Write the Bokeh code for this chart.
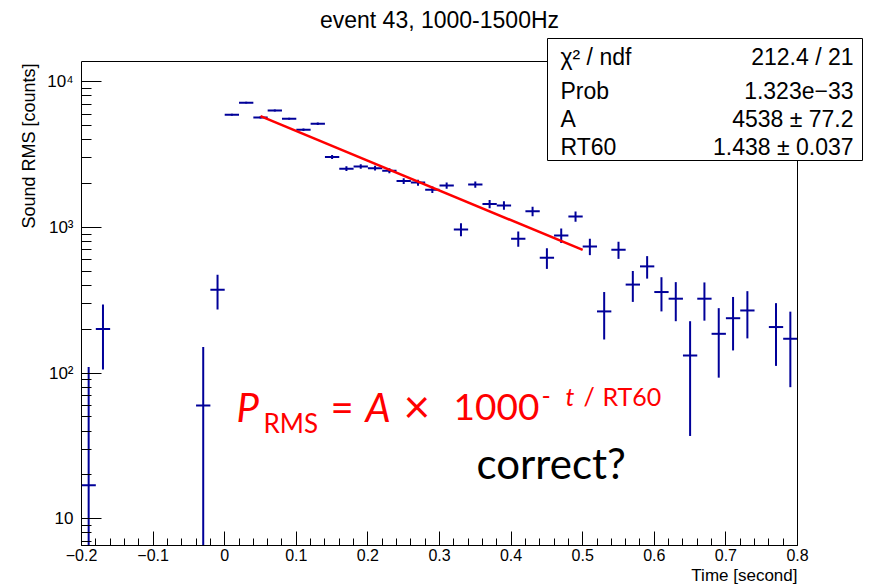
from math import pi, log10
from bokeh.plotting import figure
from bokeh.models import Label, BoxAnnotation, FixedTicker, Range1d, Title
from bokeh.embed import file_html
from bokeh.resources import INLINE

# ---------------- data ----------------
TITLE = "event 43, 1000-1500Hz"
X_LABEL = "Time [second]"
Y_LABEL = "Sound RMS [counts]"

BIN_T = [-0.19, -0.17, -0.03, -0.01,
         0.01, 0.03, 0.05, 0.07, 0.09, 0.11, 0.13, 0.15, 0.17, 0.19,
         0.21, 0.23, 0.25, 0.27, 0.29, 0.31, 0.33, 0.35, 0.37, 0.39,
         0.41, 0.43, 0.45, 0.47, 0.49, 0.51, 0.53, 0.55, 0.57, 0.59,
         0.61, 0.63, 0.65, 0.67, 0.69, 0.71, 0.73, 0.77, 0.79]
RMS = [17, 201, 60, 373,
       5930, 7180, 5690, 6350, 5570, 4680, 5150, 3040, 2530, 2620,
       2550, 2450, 2080, 2030, 1815, 1940, 968, 1970, 1450, 1415,
       836, 1290, 619, 881, 1190, 740, 265, 703, 405, 540,
       360, 324, 132, 324, 186, 238, 269, 207, 172]
RMS_ERR = [93, 95, 91, 100,
           95, 95, 95, 95, 95, 95, 95, 95, 95, 95,
           95, 95, 95, 95, 95, 95, 100, 95, 95, 95,
           100, 95, 100, 100, 95, 95, 95, 95, 97, 95,
           95, 97, 95, 95, 93, 95, 96, 95, 92]
BIN_WIDTH = 0.02

FIT_T = [0.05, 0.50]
FIT_RMS = [5800, 700]

STAT_NAMES = ["\u03c7\u00b2 / ndf", "Prob", "A", "RT60"]
STAT_VALUES = ["212.4 / 21", "1.323e\u221233", "4538 \u00b1 77.2", "1.438 \u00b1 0.037"]

X_TICKS = [-0.2, -0.1, 0, 0.1, 0.2, 0.3, 0.4, 0.5, 0.6, 0.7, 0.8]
X_TICK_LABELS = ["\u22120.2", "\u22120.1", "0", "0.1", "0.2", "0.3", "0.4",
                 "0.5", "0.6", "0.7", "0.8"]
Y_TICKS = [10, 100, 1000, 10000]
Y_TICK_LABELS = ["10", "10\u00b2", "10\u00b3", "10\u2074"]

# axis frame of the original histogram
X_MIN, X_MAX = -0.2, 0.8
Y_MIN, Y_MAX = 6.55, 13770

# ---------------- layout constants (page pixels) ----------------
W, H = 875, 587
FRAME_LEFT_PX = 81      # left edge of histogram frame
FRAME_RIGHT_PX = 797    # right edge of histogram frame
FRAME_TOP_PX = 61
FRAME_BOTTOM_PX = 545

px_per_x = (FRAME_RIGHT_PX - FRAME_LEFT_PX) / (X_MAX - X_MIN)
px_per_dec = (FRAME_BOTTOM_PX - FRAME_TOP_PX) / log10(Y_MAX / Y_MIN)
x_view_max = X_MIN + (W - FRAME_LEFT_PX) / px_per_x
y_view_max = Y_MIN * 10 ** (FRAME_BOTTOM_PX / px_per_dec)


def fx(px):
    return px - FRAME_LEFT_PX


def fy(py):
    return FRAME_BOTTOM_PX - py


ROOT_FONT = "Liberation Sans"
SLIDE_FONT = "Lato"
BLUE = "#000099"
RED = "#ff0000"

p = figure(width=W, height=H,
           x_range=Range1d(X_MIN, x_view_max), y_range=Range1d(Y_MIN, y_view_max),
           y_axis_type="log", output_backend="svg", toolbar_location=None,
           min_border_left=FRAME_LEFT_PX, min_border_right=0,
           min_border_top=0, min_border_bottom=H - FRAME_BOTTOM_PX)
p.grid.visible = False
p.background_fill_color = "white"
p.border_fill_color = "white"
p.outline_line_color = None

# x axis
x_minor = [round(X_MIN + 0.02 * i, 2) for i in range(51)]
p.xaxis.bounds = (X_MIN, X_MAX)
p.xaxis.ticker = FixedTicker(ticks=X_TICKS, minor_ticks=x_minor)
p.xaxis.major_label_overrides = dict(zip(X_TICKS, X_TICK_LABELS))
p.xaxis.major_tick_in = 14
p.xaxis.major_tick_out = 0
p.xaxis.minor_tick_in = 7
p.xaxis.minor_tick_out = 0
p.xaxis.major_label_standoff = 3
p.xaxis.major_label_text_font_size = "16px"

# y axis
y_minor = [m * 10 ** e for e in range(0, 5) for m in range(2, 10)
           if Y_MIN <= m * 10 ** e <= Y_MAX]
p.yaxis.bounds = (Y_MIN, Y_MAX)
p.yaxis.ticker = FixedTicker(ticks=Y_TICKS, minor_ticks=y_minor)
p.yaxis.major_label_overrides = dict(zip(Y_TICKS, Y_TICK_LABELS))
p.yaxis.major_tick_in = 20
p.yaxis.major_tick_out = 0
p.yaxis.minor_tick_in = 10
p.yaxis.minor_tick_out = 0
p.yaxis.major_label_standoff = 8
p.yaxis.major_label_text_font_size = "17px"

for ax in (p.xaxis, p.yaxis):
    ax.major_label_text_font = ROOT_FONT
    ax.major_label_text_color = "black"
    ax.axis_line_color = "black"
    ax.major_tick_line_color = "black"
    ax.minor_tick_line_color = "black"
    ax.major_tick_line_width = 1
    ax.minor_tick_line_width = 1

# axis titles (right-aligned as in ROOT)
p.add_layout(Title(text=X_LABEL, align="right", offset=W - FRAME_RIGHT_PX,
                   vertical_align="middle", standoff=2,
                   text_font=ROOT_FONT, text_font_size="17px",
                   text_font_style="normal", text_color="black"), "below")
p.add_layout(Title(text=Y_LABEL, align="right", offset=63,
                   vertical_align="middle", standoff=10,
                   text_font=ROOT_FONT, text_font_size="18px",
                   text_font_style="normal", text_color="black"), "left")

# error-bar points
half = BIN_WIDTH / 2
p.segment(x0=[t - half for t in BIN_T], x1=[t + half for t in BIN_T],
          y0=RMS, y1=RMS, line_color=BLUE, line_width=2)
low = [max(v - e, Y_MIN) for v, e in zip(RMS, RMS_ERR)]
high = [v + e for v, e in zip(RMS, RMS_ERR)]
p.segment(x0=BIN_T, x1=BIN_T, y0=low, y1=high, line_color=BLUE, line_width=2)

# fit line
p.line(FIT_T, FIT_RMS, line_color=RED, line_width=2.5)

# histogram frame box
p.add_layout(BoxAnnotation(left=X_MIN, right=X_MAX, bottom=Y_MIN, top=Y_MAX,
                           fill_alpha=0, line_color="black", line_width=1,
                           line_alpha=1.0))

# title
p.add_layout(Label(x=fx(439), y=fy(19), x_units="screen", y_units="screen",
                   text=TITLE, text_align="center", text_baseline="middle",
                   text_font=ROOT_FONT, text_font_size="23px", text_color="black"))

# stats box
p.add_layout(BoxAnnotation(left=fx(547), right=fx(862), top=fy(38), bottom=fy(160),
                           left_units="screen", right_units="screen",
                           top_units="screen", bottom_units="screen",
                           fill_color="white", fill_alpha=1.0,
                           line_color="black", line_width=1, line_alpha=1.0))
row_centers = [56, 90, 118, 146]
for name, val, cy in zip(STAT_NAMES, STAT_VALUES, row_centers):
    p.add_layout(Label(x=fx(560), y=fy(cy), x_units="screen", y_units="screen",
                       text=name, text_align="left", text_baseline="middle",
                       text_font=ROOT_FONT, text_font_size="23px", text_color="black"))
    p.add_layout(Label(x=fx(853), y=fy(cy), x_units="screen", y_units="screen",
                       text=val, text_align="right", text_baseline="middle",
                       text_font=ROOT_FONT, text_font_size="23px", text_color="black"))

# formula annotation (slide overlay); page x of left edge, page y of cap centre
formula_parts = [
    ("P", 236, 406, "40px", "italic"),
    ("RMS", 263, 422, "26px", "normal"),
    ("=", 330, 406, "40px", "normal"),
    ("A", 365, 406, "40px", "italic"),
    ("\u00d7", 403, 405, "46px", "normal"),
    ("1000", 453, 406, "37px", "normal"),
    ("-", 541, 395, "25px", "normal"),
    ("t", 565, 395, "25px", "italic"),
    ("/", 583, 395, "25px", "normal"),
    ("RT60", 602, 395, "25px", "normal"),
]
for txt, px, py, size, style in formula_parts:
    p.add_layout(Label(x=fx(px), y=fy(py), x_units="screen", y_units="screen",
                       text=txt, text_align="left", text_baseline="middle",
                       text_font=SLIDE_FONT, text_font_size=size,
                       text_font_style=style, text_color=RED))
p.add_layout(Label(x=fx(476), y=fy(462), x_units="screen", y_units="screen",
                   text="correct?", text_align="left", text_baseline="middle",
                   text_font=SLIDE_FONT, text_font_size="42px", text_color="black"))

open("out.html", "w").write(file_html(p, INLINE))
